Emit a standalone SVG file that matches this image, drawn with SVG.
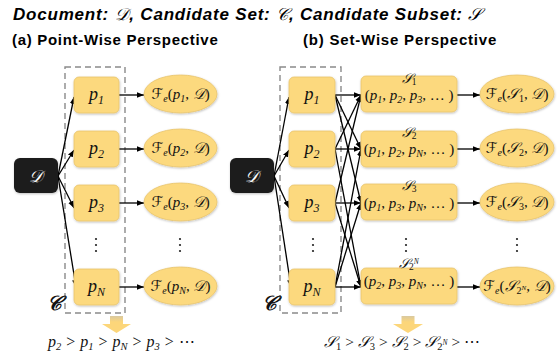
<svg xmlns="http://www.w3.org/2000/svg" width="557" height="352" viewBox="0 0 557 352">
<defs>
<marker id="ah" viewBox="0 0 10 10" refX="10" refY="5" markerWidth="7" markerHeight="7" markerUnits="userSpaceOnUse" orient="auto"><path d="M0,1 L10,5 L0,9 z" fill="#000"/></marker>
<filter id="sh" x="-20%" y="-20%" width="140%" height="140%"><feDropShadow dx="0.5" dy="1" stdDeviation="1.2" flood-color="#000" flood-opacity="0.25"/></filter>
<linearGradient id="ya" x1="0" y1="0" x2="0" y2="1"><stop offset="0" stop-color="#d9c9a0"/><stop offset="0.35" stop-color="#fcd67a"/><stop offset="1" stop-color="#fcd67a"/></linearGradient>
</defs>
<style>
.box{fill:#fcd97e;stroke:#e9c46c;stroke-width:0.8;filter:url(#sh)}
.ell{fill:#fcd97e;stroke:#e9c46c;stroke-width:0.8;filter:url(#sh)}
.dbox{fill:#1b1b1b;filter:url(#sh)}
.dash{fill:none;stroke:#8a8a8a;stroke-width:1.4;stroke-dasharray:6 4}
.m{font-family:"Liberation Serif","DejaVu Serif",serif;font-style:italic;fill:#111}
.r{font-family:"Liberation Serif","DejaVu Serif",serif;font-style:normal;fill:#111}
.sc{font-family:"DejaVu Serif","DejaVu Sans","Noto Sans",serif;font-style:italic}
.con line{stroke:#000;stroke-width:1.3;marker-end:url(#ah)}
.ttl{font-family:"Liberation Sans","DejaVu Sans",sans-serif;font-weight:bold;fill:#000}
.dots{fill:#222}
</style>
<text class="ttl" x="13" y="20" font-size="17" font-style="italic" letter-spacing="0.8">Document: <tspan class="sc" font-weight="normal">𝒟</tspan>, Candidate Set: <tspan class="sc" font-weight="normal">𝒞</tspan>, Candidate Subset: <tspan class="sc" font-weight="normal">𝒮</tspan></text>
<text class="ttl" x="12" y="45" font-size="15" letter-spacing="0.7">(a) Point-Wise Perspective</text>
<text class="ttl" x="303" y="45" font-size="15" letter-spacing="0.8">(b) Set-Wise Perspective</text>

<g id="left-candidates"><rect class="dash" x="65" y="67" width="60" height="246"/><text class="m sc" x="47" y="310" font-size="20" font-weight="bold">𝒞</text></g>
<g id="right-candidates"><rect class="dash" x="280" y="67" width="61" height="246"/><text class="m sc" x="262" y="310" font-size="20" font-weight="bold">𝒞</text></g>

<g id="connectors" class="con">
<line x1="58" y1="176" x2="74" y2="97"/>
<line x1="58" y1="176" x2="74" y2="150"/>
<line x1="58" y1="176" x2="74" y2="208"/>
<line x1="58" y1="176" x2="76" y2="287"/>
<line x1="119" y1="95" x2="144" y2="95"/>
<line x1="119" y1="149" x2="144" y2="149"/>
<line x1="119" y1="203" x2="144" y2="203"/>
<line x1="119" y1="287" x2="144" y2="287"/>
<line x1="274" y1="176" x2="289" y2="97"/>
<line x1="274" y1="176" x2="289" y2="150"/>
<line x1="274" y1="176" x2="289" y2="208"/>
<line x1="274" y1="176" x2="291" y2="287"/>
<line x1="335" y1="95" x2="361" y2="95"/>
<line x1="335" y1="95" x2="361" y2="149"/>
<line x1="335" y1="95" x2="361" y2="203"/>
<line x1="335" y1="149" x2="361" y2="95"/>
<line x1="335" y1="149" x2="361" y2="149"/>
<line x1="335" y1="149" x2="361" y2="287"/>
<line x1="335" y1="203" x2="361" y2="95"/>
<line x1="335" y1="203" x2="361" y2="203"/>
<line x1="335" y1="203" x2="361" y2="287"/>
<line x1="335" y1="287" x2="361" y2="149"/>
<line x1="335" y1="287" x2="361" y2="203"/>
<line x1="335" y1="287" x2="361" y2="287"/>
<line x1="457" y1="95" x2="480" y2="95"/>
<line x1="457" y1="149" x2="480" y2="149"/>
<line x1="457" y1="203" x2="480" y2="203"/>
<line x1="457" y1="287" x2="480" y2="287"/>
</g>

<g id="D-left"><rect class="dbox" x="14" y="158" width="44" height="35" rx="6"/><text class="sc" x="36" y="182" font-size="17" fill="#fff" text-anchor="middle">𝒟</text></g>
<g id="D-right"><rect class="dbox" x="230" y="158" width="44" height="35" rx="6"/><text class="sc" x="252" y="182" font-size="17" fill="#fff" text-anchor="middle">𝒟</text></g>

<g id="pl1"><rect class="box" x="74" y="77" width="45" height="36" rx="5"/><text class="m" x="96.5" y="100" font-size="18" text-anchor="middle">p<tspan font-size="12" dy="4">1</tspan></text></g>
<g id="pl2"><rect class="box" x="74" y="131" width="45" height="36" rx="5"/><text class="m" x="96.5" y="154" font-size="18" text-anchor="middle">p<tspan font-size="12" dy="4">2</tspan></text></g>
<g id="pl3"><rect class="box" x="74" y="185" width="45" height="36" rx="5"/><text class="m" x="96.5" y="208" font-size="18" text-anchor="middle">p<tspan font-size="12" dy="4">3</tspan></text></g>
<g id="plN"><rect class="box" x="74" y="269" width="45" height="36" rx="5"/><text class="m" x="96.5" y="292" font-size="18" text-anchor="middle">p<tspan font-size="12" dy="4">N</tspan></text></g>
<g id="dots-l"><circle class="dots" cx="96" cy="239" r="1.1"/><circle class="dots" cx="96" cy="245" r="1.1"/><circle class="dots" cx="96" cy="251" r="1.1"/><circle class="dots" cx="180" cy="239" r="1.1"/><circle class="dots" cx="180" cy="245" r="1.1"/><circle class="dots" cx="180" cy="251" r="1.1"/></g>

<g id="el1"><ellipse class="ell" cx="180.5" cy="94" rx="36.5" ry="19"/><text class="m" x="180.5" y="99" font-size="15" text-anchor="middle"><tspan class="sc">ℱ</tspan><tspan font-size="10" dy="3">e</tspan><tspan class="r" dy="-3">(</tspan>p<tspan font-size="10" dy="3">1</tspan><tspan class="r" dy="-3">, </tspan><tspan class="sc">𝒟</tspan><tspan class="r">)</tspan></text></g>
<g id="el2"><ellipse class="ell" cx="180.5" cy="148" rx="36.5" ry="19"/><text class="m" x="180.5" y="153" font-size="15" text-anchor="middle"><tspan class="sc">ℱ</tspan><tspan font-size="10" dy="3">e</tspan><tspan class="r" dy="-3">(</tspan>p<tspan font-size="10" dy="3">2</tspan><tspan class="r" dy="-3">, </tspan><tspan class="sc">𝒟</tspan><tspan class="r">)</tspan></text></g>
<g id="el3"><ellipse class="ell" cx="180.5" cy="202" rx="36.5" ry="19"/><text class="m" x="180.5" y="207" font-size="15" text-anchor="middle"><tspan class="sc">ℱ</tspan><tspan font-size="10" dy="3">e</tspan><tspan class="r" dy="-3">(</tspan>p<tspan font-size="10" dy="3">3</tspan><tspan class="r" dy="-3">, </tspan><tspan class="sc">𝒟</tspan><tspan class="r">)</tspan></text></g>
<g id="elN"><ellipse class="ell" cx="180.5" cy="286" rx="36.5" ry="19"/><text class="m" x="180.5" y="291" font-size="15" text-anchor="middle"><tspan class="sc">ℱ</tspan><tspan font-size="10" dy="3">e</tspan><tspan class="r" dy="-3">(</tspan>p<tspan font-size="10" dy="3">N</tspan><tspan class="r" dy="-3">, </tspan><tspan class="sc">𝒟</tspan><tspan class="r">)</tspan></text></g>

<g id="pr1"><rect class="box" x="289" y="77" width="46" height="36" rx="5"/><text class="m" x="312" y="100" font-size="18" text-anchor="middle">p<tspan font-size="12" dy="4">1</tspan></text></g>
<g id="pr2"><rect class="box" x="289" y="131" width="46" height="36" rx="5"/><text class="m" x="312" y="154" font-size="18" text-anchor="middle">p<tspan font-size="12" dy="4">2</tspan></text></g>
<g id="pr3"><rect class="box" x="289" y="185" width="46" height="36" rx="5"/><text class="m" x="312" y="208" font-size="18" text-anchor="middle">p<tspan font-size="12" dy="4">3</tspan></text></g>
<g id="prN"><rect class="box" x="289" y="269" width="46" height="36" rx="5"/><text class="m" x="312" y="292" font-size="18" text-anchor="middle">p<tspan font-size="12" dy="4">N</tspan></text></g>
<g id="dots-r"><circle class="dots" cx="313" cy="239" r="1.1"/><circle class="dots" cx="313" cy="245" r="1.1"/><circle class="dots" cx="313" cy="251" r="1.1"/><circle class="dots" cx="406" cy="239" r="1.1"/><circle class="dots" cx="406" cy="245" r="1.1"/><circle class="dots" cx="406" cy="251" r="1.1"/><circle class="dots" cx="517" cy="239" r="1.1"/><circle class="dots" cx="517" cy="245" r="1.1"/><circle class="dots" cx="517" cy="251" r="1.1"/></g>

<g id="s1"><rect class="box" x="361" y="76" width="96" height="36" rx="5"/><text class="m" x="409" y="83" font-size="13.5" text-anchor="middle"><tspan class="sc">𝒮</tspan><tspan class="r" font-size="9.5" dy="2">1</tspan></text><text class="m" x="409" y="100" font-size="15" text-anchor="middle"><tspan class="r">(</tspan>p<tspan font-size="10" dy="3">1</tspan><tspan class="r" dy="-3">, </tspan>p<tspan font-size="10" dy="3">2</tspan><tspan class="r" dy="-3">, </tspan>p<tspan font-size="10" dy="3">3</tspan><tspan class="r" dy="-3">, … )</tspan></text></g>
<g id="s2"><rect class="box" x="361" y="131" width="96" height="36" rx="5"/><text class="m" x="409" y="137" font-size="13.5" text-anchor="middle"><tspan class="sc">𝒮</tspan><tspan class="r" font-size="9.5" dy="2">2</tspan></text><text class="m" x="409" y="154" font-size="15" text-anchor="middle"><tspan class="r">(</tspan>p<tspan font-size="10" dy="3">1</tspan><tspan class="r" dy="-3">, </tspan>p<tspan font-size="10" dy="3">2</tspan><tspan class="r" dy="-3">, </tspan>p<tspan font-size="10" dy="3">N</tspan><tspan class="r" dy="-3">, … )</tspan></text></g>
<g id="s3"><rect class="box" x="361" y="184" width="96" height="36" rx="5"/><text class="m" x="409" y="190" font-size="13.5" text-anchor="middle"><tspan class="sc">𝒮</tspan><tspan class="r" font-size="9.5" dy="2">3</tspan></text><text class="m" x="409" y="208" font-size="15" text-anchor="middle"><tspan class="r">(</tspan>p<tspan font-size="10" dy="3">1</tspan><tspan class="r" dy="-3">, </tspan>p<tspan font-size="10" dy="3">3</tspan><tspan class="r" dy="-3">, </tspan>p<tspan font-size="10" dy="3">N</tspan><tspan class="r" dy="-3">, … )</tspan></text></g>
<g id="s2N"><rect class="box" x="361" y="268" width="96" height="36" rx="5"/><text class="m" x="409" y="268" font-size="13.5" text-anchor="middle"><tspan class="sc">𝒮</tspan><tspan class="r" font-size="9.5" dy="2">2</tspan><tspan font-size="7.5" dy="-6">N</tspan></text><text class="m" x="409" y="286" font-size="15" text-anchor="middle"><tspan class="r">(</tspan>p<tspan font-size="10" dy="3">2</tspan><tspan class="r" dy="-3">, </tspan>p<tspan font-size="10" dy="3">3</tspan><tspan class="r" dy="-3">, </tspan>p<tspan font-size="10" dy="3">N</tspan><tspan class="r" dy="-3">, … )</tspan></text></g>

<g id="fs1"><ellipse class="ell" cx="517" cy="94" rx="37" ry="19"/><text class="m" x="517" y="99" font-size="15" text-anchor="middle"><tspan class="sc">ℱ</tspan><tspan font-size="10" dy="3">e</tspan><tspan class="r" dy="-3">(</tspan><tspan class="sc">𝒮</tspan><tspan class="r" font-size="10" dy="3">1</tspan><tspan class="r" dy="-3">, </tspan><tspan class="sc">𝒟</tspan><tspan class="r">)</tspan></text></g>
<g id="fs2"><ellipse class="ell" cx="517" cy="148" rx="37" ry="19"/><text class="m" x="517" y="153" font-size="15" text-anchor="middle"><tspan class="sc">ℱ</tspan><tspan font-size="10" dy="3">e</tspan><tspan class="r" dy="-3">(</tspan><tspan class="sc">𝒮</tspan><tspan class="r" font-size="10" dy="3">2</tspan><tspan class="r" dy="-3">, </tspan><tspan class="sc">𝒟</tspan><tspan class="r">)</tspan></text></g>
<g id="fs3"><ellipse class="ell" cx="517" cy="202" rx="37" ry="19"/><text class="m" x="517" y="207" font-size="15" text-anchor="middle"><tspan class="sc">ℱ</tspan><tspan font-size="10" dy="3">e</tspan><tspan class="r" dy="-3">(</tspan><tspan class="sc">𝒮</tspan><tspan class="r" font-size="10" dy="3">3</tspan><tspan class="r" dy="-3">, </tspan><tspan class="sc">𝒟</tspan><tspan class="r">)</tspan></text></g>
<g id="fsN"><ellipse class="ell" cx="517" cy="286" rx="37" ry="19"/><text class="m" x="517" y="291" font-size="15" text-anchor="middle"><tspan class="sc">ℱ</tspan><tspan font-size="10" dy="3">e</tspan><tspan class="r" dy="-3">(</tspan><tspan class="sc">𝒮</tspan><tspan class="r" font-size="10" dy="3">2</tspan><tspan font-size="7" dy="-4">N</tspan><tspan class="r" dy="1">, </tspan><tspan class="sc">𝒟</tspan><tspan class="r">)</tspan></text></g>

<g id="rank-left"><path d="M110,316 H123 V324 H131 L116.5,333 L102,324 H110 Z" fill="url(#ya)"/><text class="m" x="48" y="347" font-size="16" word-spacing="1"><tspan>p</tspan><tspan font-size="10.5" dy="3">2</tspan><tspan class="r" dy="-3"> &gt; </tspan>p<tspan font-size="10.5" dy="3">1</tspan><tspan class="r" dy="-3"> &gt; </tspan>p<tspan font-size="10.5" dy="3">N</tspan><tspan class="r" dy="-3"> &gt; </tspan>p<tspan font-size="10.5" dy="3">3</tspan><tspan class="r" dy="-3"> &gt; ⋯</tspan></text></g>
<g id="rank-right"><path d="M401.5,316 H414.5 V324 H423 L408,333 L393,324 H401.5 Z" fill="url(#ya)"/><text class="m" x="324" y="347" font-size="15.5"><tspan class="sc">𝒮</tspan><tspan class="r" font-size="10.5" dy="3">1</tspan><tspan class="r" dy="-3"> &gt; </tspan><tspan class="sc">𝒮</tspan><tspan class="r" font-size="10.5" dy="3">3</tspan><tspan class="r" dy="-3"> &gt; </tspan><tspan class="sc">𝒮</tspan><tspan class="r" font-size="10.5" dy="3">2</tspan><tspan class="r" dy="-3"> &gt; </tspan><tspan class="sc">𝒮</tspan><tspan class="r" font-size="10.5" dy="3">2</tspan><tspan font-size="7.5" dy="-5">N</tspan><tspan class="r" dy="2"> &gt; ⋯</tspan></text></g>
</svg>
